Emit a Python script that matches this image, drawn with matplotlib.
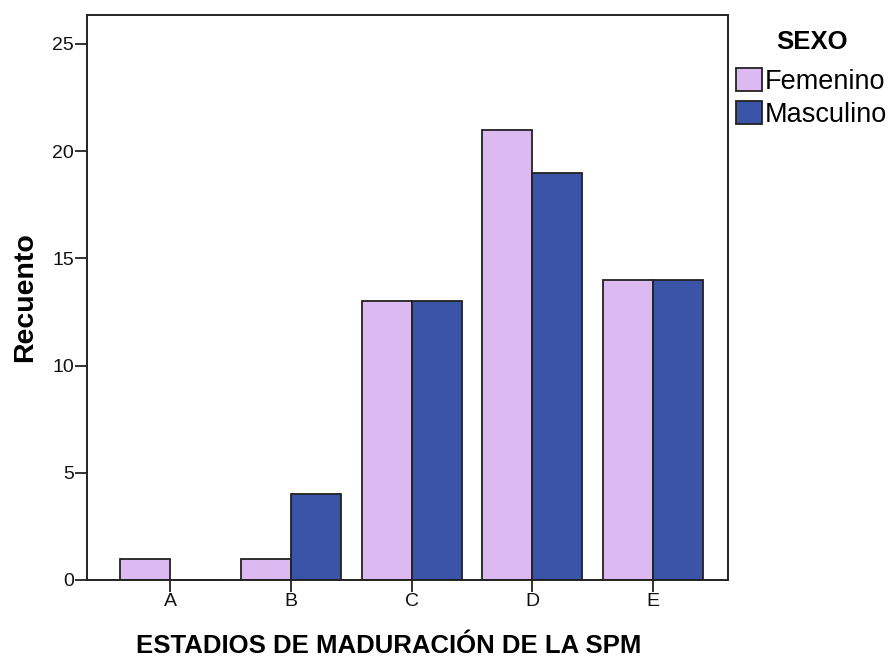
import matplotlib
matplotlib.use("Agg")
import matplotlib.pyplot as plt
import numpy as np

plt.rcParams["font.family"] = ["Liberation Sans", "DejaVu Sans"]

categories = ["A", "B", "C", "D", "E"]
femenino = [1, 1, 13, 21, 14]
masculino = [0, 4, 13, 19, 14]
series_names = ["Femenino", "Masculino"]
colors = ["#ddb9f2", "#3a55a8"]
yticks = [0, 5, 10, 15, 20, 25]

INK = "#222222"

fig = plt.figure(figsize=(8.91, 6.57), dpi=100)
ax = fig.add_axes([87 / 891, 77 / 657, 641 / 891, 565 / 657])

x = np.arange(len(categories))
w = 0.414
for vals, name, col, off in zip([femenino, masculino], series_names, colors, [-w / 2, w / 2]):
    ax.bar(x + off, vals, width=w, color=col, edgecolor=INK, linewidth=1.3, label=name)

ax.set_xlim(-0.69, 4.62)
ax.set_ylim(0, 26.35)
ax.set_yticks(yticks)
ax.set_xticks(x)
ax.set_xticklabels(categories)
ax.tick_params(axis="both", direction="out", length=8.5, width=1.3, color=INK,
               labelsize=14, labelcolor="#111111", pad=1)
for s in ax.spines.values():
    s.set_color(INK)
    s.set_linewidth(1.4)

ax.set_ylabel("Recuento", fontsize=20.5, fontweight="bold", labelpad=10)
ax.set_xlabel("ESTADIOS DE MADURACIÓN DE LA SPM", fontsize=18.5, fontweight="bold")
ax.xaxis.set_label_coords(0.47, -0.095)

# legend title drawn separately to get the wider gap of the original
fig.text(812 / 891, 1 - 42 / 657, "SEXO", fontsize=18.5, fontweight="bold",
         ha="center", va="center")
leg = fig.legend(loc="upper left", bbox_to_anchor=(736 / 891, 1 - 68 / 657),
                 frameon=False, fontsize=19.5,
                 handlelength=0.95, handleheight=0.95, handletextpad=0.12,
                 labelspacing=0.22, borderaxespad=0, borderpad=0)
for h in leg.legend_handles:
    h.set_edgecolor(INK)
    h.set_linewidth(1.3)

fig.savefig("out.png", dpi=100)
